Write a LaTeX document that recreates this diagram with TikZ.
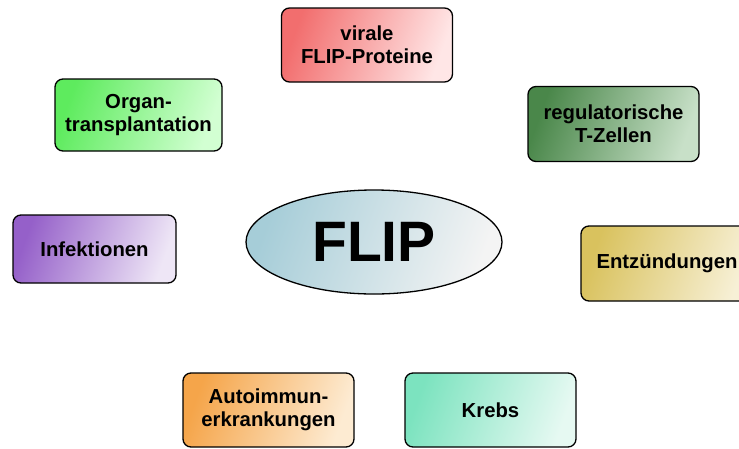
\documentclass[tikz,border=0pt]{standalone}
\usepackage{fontspec}
\setmainfont{Liberation Sans}
\usetikzlibrary{shapes.geometric}
\definecolor{redA}{HTML}{F26E6E}\definecolor{redB}{HTML}{FFE6E6}
\definecolor{lgA}{HTML}{5EEB5E}\definecolor{lgB}{HTML}{D2FFD2}
\definecolor{dgA}{HTML}{4A874A}\definecolor{dgB}{HTML}{C8E0C8}
\definecolor{puA}{HTML}{9560C9}\definecolor{puB}{HTML}{EEE6F6}
\definecolor{goA}{HTML}{D9C25E}\definecolor{goB}{HTML}{F7F0D6}
\definecolor{orA}{HTML}{F5A54A}\definecolor{orB}{HTML}{FDEBD2}
\definecolor{aqA}{HTML}{7CE3BF}\definecolor{aqB}{HTML}{E6F9F2}
\definecolor{elA}{HTML}{A6CDD8}\definecolor{elB}{HTML}{F4F4F4}
\tikzset{
  topic/.style n args={2}{draw=black, line width=1.3pt, rounded corners=8pt,
    left color=#1, right color=#2, shading angle=70,
    minimum width=171pt, minimum height=74pt, align=center,
    font=\fontsize{20.3}{23}\selectfont\bfseries, inner sep=2pt},
  hub/.style={ellipse, draw=black, line width=1.3pt,
    left color=elA, right color=elB, shading angle=70,
    minimum width=256pt, minimum height=104pt, inner sep=0pt,
    font=\fontsize{57}{60}\selectfont\bfseries}
}
\begin{document}
\begin{tikzpicture}[x=1pt,y=-1pt]
\useasboundingbox[fill=white] (0,0) rectangle (739,448);
\node[hub] (flip) at (374,242) {FLIP};
\node[topic={redA}{redB}] (viral) at (367,45) {virale\\FLIP-Proteine};
\node[topic={lgA}{lgB}, minimum width=167pt, minimum height=72pt] (organ) at (138.5,115) {Organ-\\transplantation};
\node[topic={dgA}{dgB}, minimum height=75pt] (treg) at (613.5,124) {regulatorische\\T-Zellen};
\node[topic={puA}{puB}, minimum width=163pt, minimum height=68pt] (infekt) at (94.5,249) {Infektionen};
\node[topic={goA}{goB}, minimum width=172pt, minimum height=75pt] (entz) at (667,263.5) {Entzündungen};
\node[topic={orA}{orB}] (auto) at (268.5,410) {Autoimmun-\\erkrankungen};
\node[topic={aqA}{aqB}] (krebs) at (490.5,410) {Krebs};
\end{tikzpicture}
\end{document}
